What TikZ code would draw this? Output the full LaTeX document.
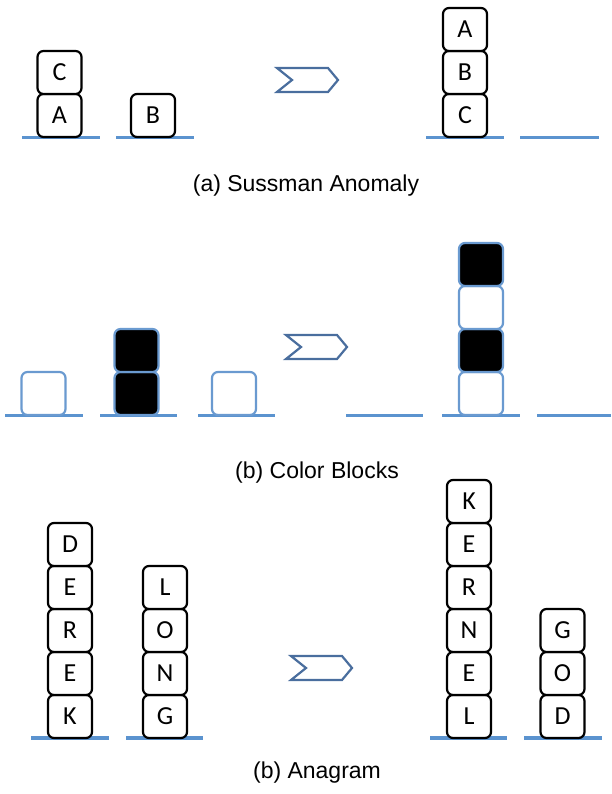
\documentclass[tikz,border=0pt]{standalone}
\usepackage{fontspec}
\setmainfont{Liberation Sans}
\newfontfamily\blockfont{Carlito}
\begin{document}
\begin{tikzpicture}[x=1pt,y=-1pt,
  base/.style={draw=baseblue,line width=3.5pt},
  block/.style={draw=black,line width=2.2pt,rounded corners=6pt,
    minimum width=44pt,minimum height=43pt,inner sep=0pt,fill=white,
    font=\blockfont\fontsize{26}{26}\selectfont},
  cblock/.style={block,draw=blockblue},
  dark/.style={cblock,fill=black},
  chevron/.style={draw=chevblue,line width=2.2pt,line join=miter},
  caption/.style={font=\fontsize{23}{25}\selectfont}]
\definecolor{baseblue}{HTML}{5B93CF}
\definecolor{blockblue}{HTML}{6A9AD0}
\definecolor{chevblue}{HTML}{4A6E9E}
\useasboundingbox (0,0) rectangle (611,794);

% ---- (a) Sussman anomaly ----
\draw[base] (22,137.5) -- (100,137.5);
\draw[base] (116,137.5) -- (194,137.5);
\node[block] (a1) at (59.5,115.5) {A};
\node[block] (c1) at (59.5,72.5) {C};
\node[block] (b1) at (153,115.5) {B};
\draw[chevron] (277,68) -- (328,68) -- (338,80) -- (328,92) -- (277,92) -- (292,80) -- cycle;
\draw[base] (426,137.5) -- (504,137.5);
\draw[base] (520,137.5) -- (599,137.5);
\node[block] (c2) at (465,115.5) {C};
\node[block] (b2) at (465,72.5) {B};
\node[block] (a2) at (465,29.5) {A};
\node[caption] (capa) at (306,186) {(a) Sussman Anomaly};

% ---- (b) colour blocks ----
\draw[base] (5,415.5) -- (83,415.5);
\draw[base] (100,415.5) -- (177,415.5);
\draw[base] (198,415.5) -- (275,415.5);
\node[cblock] (w1) at (43.5,393.5) {};
\node[dark] (k1) at (136.5,393.5) {};
\node[dark] (k2) at (136.5,350.5) {};
\node[cblock] (w2) at (234,393.5) {};
\draw[chevron] (286,335) -- (337,335) -- (347,347) -- (337,359) -- (286,359) -- (301,347) -- cycle;
\draw[base] (346,415.5) -- (423,415.5);
\draw[base] (442,415.5) -- (520,415.5);
\draw[base] (537,415.5) -- (611,415.5);
\node[cblock] (w3) at (481,393.5) {};
\node[dark] (k3) at (481,350.5) {};
\node[cblock] (w4) at (481,307.5) {};
\node[dark] (k4) at (481,264.5) {};
\node[caption] (capb) at (317,473) {(b) Color Blocks};

% ---- (c) anagram ----
\draw[base] (31,738) -- (109,738);
\draw[base] (126,738) -- (203,738);
\node[block] (d1k) at (70,716.5) {K};
\node[block] (d1e2) at (70,673.5) {E};
\node[block] (d1r) at (70,630.5) {R};
\node[block] (d1e1) at (70,587.5) {E};
\node[block] (d1d) at (70,544.5) {D};
\node[block] (l1g) at (165,716.5) {G};
\node[block] (l1n) at (165,673.5) {N};
\node[block] (l1o) at (165,630.5) {O};
\node[block] (l1l) at (165,587.5) {L};
\draw[chevron] (291,656) -- (342,656) -- (352,668) -- (342,680) -- (291,680) -- (306,668) -- cycle;
\draw[base] (430,738) -- (507,738);
\draw[base] (524,738) -- (602,738);
\node[block] (k6) at (469,716.5) {L};
\node[block] (k5) at (469,673.5) {E};
\node[block] (k4n) at (469,630.5) {N};
\node[block] (k3r) at (469,587.5) {R};
\node[block] (k2e) at (469,544.5) {E};
\node[block] (k1k) at (469,501.5) {K};
\node[block] (g3) at (562.5,716.5) {D};
\node[block] (g2) at (562.5,673.5) {O};
\node[block] (g1) at (562.5,630.5) {G};
\node[caption] (capc) at (317,773) {(b) Anagram};
\end{tikzpicture}
\end{document}
